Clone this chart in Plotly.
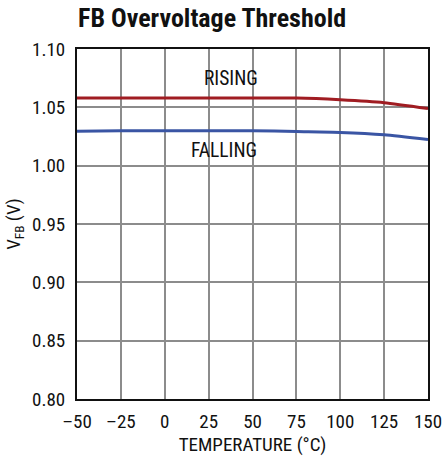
import plotly.graph_objects as go

temp_c = [-50, -25, 0, 25, 50, 75, 100, 125, 150]
rising_v = [1.058, 1.058, 1.058, 1.058, 1.058, 1.058, 1.0565, 1.054, 1.049]
falling_v = [1.0295, 1.030, 1.030, 1.030, 1.030, 1.0292, 1.0285, 1.0265, 1.0225]
x_ticks = [-50, -25, 0, 25, 50, 75, 100, 125, 150]
x_tick_labels = ["–50", "–25", "0", "25", "50", "75", "100", "125", "150"]
y_ticks = [0.80, 0.85, 0.90, 0.95, 1.00, 1.05, 1.10]
y_tick_labels = ["0.80", "0.85", "0.90", "0.95", "1.00", "1.05", "1.10"]

font_main = "Liberation Sans Narrow, Arial Narrow, Roboto Condensed, Liberation Sans, sans-serif"

fig = go.Figure()
fig.add_trace(go.Scatter(x=temp_c, y=rising_v, mode="lines",
                         line=dict(color="#a01c22", width=3, shape="spline", smoothing=0.6)))
fig.add_trace(go.Scatter(x=temp_c, y=falling_v, mode="lines",
                         line=dict(color="#3a55a4", width=3, shape="spline", smoothing=0.6)))

fig.add_annotation(x=38, y=1.075, text="RISING", showarrow=False, font=dict(family=font_main, size=19.5, color="#111"))
fig.add_annotation(x=34, y=1.013, text="FALLING", showarrow=False, font=dict(family=font_main, size=19.5, color="#111"))

fig.update_layout(
    width=445, height=458, autosize=False,
    margin=dict(l=77, r=17, t=49, b=59, autoexpand=False),
    paper_bgcolor="white", plot_bgcolor="white",
    showlegend=False,
    font=dict(family=font_main, size=19, color="#111"),
    title=dict(text="<b>FB Overvoltage Threshold</b>", x=78/445, xanchor="left", y=1 - 18/458, yanchor="middle",
               font=dict(family=font_main, size=26, color="#111")),
)
fig.update_xaxes(range=[-50, 150], tickvals=x_ticks, ticktext=x_tick_labels, showgrid=True, gridcolor="#8c8c8c",
                 gridwidth=1.5, showline=True, linecolor="#111", linewidth=2, mirror=True, ticks="", zeroline=False,
                 ticklabelstandoff=4, automargin=False,
                 title=dict(text="TEMPERATURE (°C)", standoff=4, font=dict(size=19)), tickfont=dict(size=19))
fig.update_yaxes(range=[0.80, 1.10], tickvals=y_ticks, ticktext=y_tick_labels, showgrid=True, gridcolor="#8c8c8c",
                 gridwidth=1.5, showline=True, linecolor="#111", linewidth=2, mirror=True, ticks="", zeroline=False,
                 ticklabelstandoff=6, automargin=False,
                 title=dict(text="V<sub>FB</sub> (V)", standoff=6, font=dict(size=19)), tickfont=dict(size=19))

fig.write_html("out.html", config={"displayModeBar": False},
               post_script="document.body.style.margin='0';")
